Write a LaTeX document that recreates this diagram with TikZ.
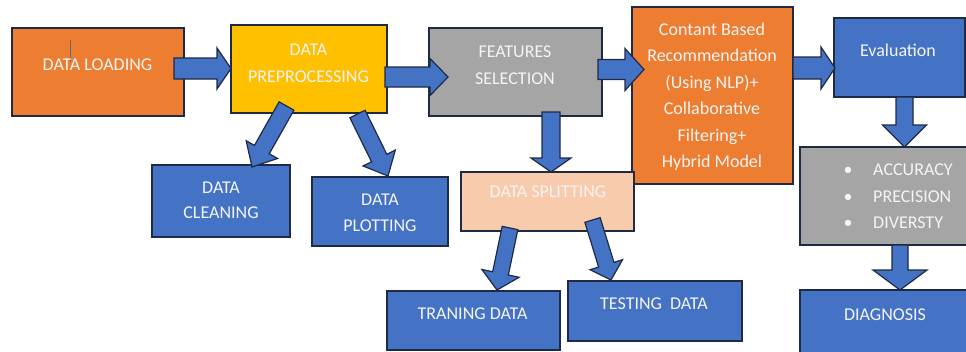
\documentclass[tikz,border=0pt]{standalone}
\usepackage{fontspec}
\setmainfont{Carlito}
\usetikzlibrary{calc}

\definecolor{edge}{HTML}{1F2A44}
\definecolor{cOrange}{HTML}{ED7D31}
\definecolor{cYellow}{HTML}{FFC000}
\definecolor{cGray}{HTML}{A5A5A5}
\definecolor{cPeach}{HTML}{F8CBAD}
\definecolor{cBlue}{HTML}{4472C4}
\definecolor{cText}{HTML}{F4F4F4}

\tikzset{
  box/.style={draw=edge, line width=1.4pt, inner sep=0pt, outer sep=0pt},
  lbl/.style={anchor=base, inner sep=0pt, text=cText, font=\fontsize{18}{22}\selectfont},
  lblw/.style={lbl, anchor=base west},
  barrow/.style={draw=edge, fill=cBlue, line width=1.2pt, line join=miter},
}

% block arrow: name, tail, tip, shaft half-width, head half-width, head length
\newcommand\blockarrow[6]{%
  \coordinate (#1-neck) at ($(#3)!#6!(#2)$);
  \draw[barrow] ($(#2)!#4!90:(#3)$) -- ($(#1-neck)!#4!-90:(#2)$)
    -- ($(#1-neck)!#5!-90:(#2)$) -- (#3) -- ($(#1-neck)!#5!90:(#2)$)
    -- ($(#1-neck)!#4!90:(#2)$) -- ($(#2)!#4!-90:(#3)$) -- cycle;
}

\begin{document}
\begin{tikzpicture}[x=1pt, y=-1pt]
\useasboundingbox (0,0) rectangle (966,351);
\clip (0,0) rectangle (966,351);
\fill[white] (0,0) rectangle (966,351);

% process boxes
\node[box, fill=cOrange, minimum width=172, minimum height=88] (dl)  at (98,72) {};
\node[box, fill=cYellow, minimum width=156, minimum height=88] (dp)  at (309,69) {};
\node[box, fill=cGray,   minimum width=173, minimum height=88] (fs)  at (515.5,72) {};
\node[box, fill=cOrange, minimum width=161, minimum height=177] (cb) at (712.5,95.5) {};
\node[box, fill=cBlue,   minimum width=131, minimum height=79] (ev)  at (899.5,57.5) {};
\node[box, fill=cGray,   minimum width=170, minimum height=98] (gr)  at (885,196) {};
\node[box, fill=cBlue,   minimum width=170, minimum height=70] (dg)  at (885,325) {};
\node[box, fill=cBlue,   minimum width=138, minimum height=72] (dc)  at (221,201) {};
\node[box, fill=cBlue,   minimum width=136, minimum height=69] (dpl) at (380,211.5) {};
\node[box, fill=cPeach,  minimum width=173, minimum height=59] (ds)  at (547.5,201.5) {};
\node[box, fill=cBlue,   minimum width=173, minimum height=59] (tr)  at (473.5,320.5) {};
\node[box, fill=cBlue,   minimum width=174, minimum height=60] (ts)  at (655,311) {};

% text cursor mark inside the first box
\draw[edge!70, line width=0.6pt] (70,40) -- (70,62);

% labels
\node[lbl] (dl-t)  at (97.5,70.2)  {DATA LOADING};
\node[lbl] (dp-t1) at (308.5,55.7) {DATA};
\node[lbl] (dp-t2) at (308.5,82.2) {PREPROCESSING};
\node[lbl] (fs-t1) at (515,57.7)   {FEATURES};
\node[lbl] (fs-t2) at (515,84.7)   {SELECTION};
\node[lbl] (cb-t1) at (712,35.2)   {Contant Based};
\node[lbl] (cb-t2) at (712,61.7)   {Recommendation};
\node[lbl] (cb-t3) at (712,88.2)   {(Using NLP)+};
\node[lbl] (cb-t4) at (712,114.7)  {Collaborative};
\node[lbl] (cb-t5) at (712,141.2)  {Filtering+};
\node[lbl] (cb-t6) at (712,167.7)  {Hybrid Model};
\node[lbl] (ev-t)  at (898,56.7)   {Evaluation};
\node[lbl] (gr-b1) at (848,175.7)  {•};
\node[lbl] (gr-b2) at (848,202.2)  {•};
\node[lbl] (gr-b3) at (848,228.2)  {•};
\node[lblw] (gr-t1) at (873,175.7) {ACCURACY};
\node[lblw] (gr-t2) at (873,202.2) {PRECISION};
\node[lblw] (gr-t3) at (873,228.2) {DIVERSTY};
\node[lbl] (dg-t)  at (885,320.7)  {DIAGNOSIS};
\node[lbl] (dc-t1) at (221,193.2)  {DATA};
\node[lbl] (dc-t2) at (221,218.7)  {CLEANING};
\node[lbl] (dpl-t1) at (380,205.4) {DATA};
\node[lbl] (dpl-t2) at (380,231.2) {PLOTTING};
\node[lbl] (ds-t)  at (548,197.7)  {DATA SPLITTING};
\node[lbl] (tr-t)  at (472.5,319.4) {TRANING DATA};
\node[lbl] (ts-t)  at (654,309.4)  {TESTING\ \ DATA};

% connector end points
\coordinate (a1s) at (174,68.5);   \coordinate (a1e) at (231,68.5);
\coordinate (a2s) at (385,77);     \coordinate (a2e) at (448,77);
\coordinate (a3s) at (598,69.5);   \coordinate (a3e) at (644,69.5);
\coordinate (a4s) at (793,68);     \coordinate (a4e) at (835,68);
\coordinate (a5s) at (551,112);    \coordinate (a5e) at (551,172);
\coordinate (a6s) at (904.5,97);   \coordinate (a6e) at (904.5,147);
\coordinate (a7s) at (900,245);    \coordinate (a7e) at (900,290);
\coordinate (a8s) at (286.5,106);  \coordinate (a8e) at (252,167);
\coordinate (a9s) at (357.5,114);  \coordinate (a9e) at (388,176);
\coordinate (a10s) at (510,228);   \coordinate (a10e) at (497,290);
\coordinate (a11s) at (592.5,220); \coordinate (a11e) at (611,280);

% block arrows
\blockarrow{a1}{a1s}{a1e}{10.5pt}{20.5pt}{14pt}
\blockarrow{a2}{a2s}{a2e}{10pt}{18.5pt}{18pt}
\blockarrow{a3}{a3s}{a3e}{10pt}{21pt}{19pt}
\blockarrow{a4}{a4s}{a4e}{11pt}{21pt}{14pt}
\blockarrow{a5}{a5s}{a5e}{9pt}{20pt}{14pt}
\blockarrow{a6}{a6s}{a6e}{8.5pt}{22pt}{22pt}
\blockarrow{a7}{a7s}{a7e}{8pt}{27pt}{20pt}
\blockarrow{a8}{a8s}{a8e}{8.5pt}{18pt}{20pt}
\blockarrow{a9}{a9s}{a9e}{8.5pt}{18pt}{20pt}
\blockarrow{a10}{a10s}{a10e}{8pt}{19pt}{17pt}
\blockarrow{a11}{a11s}{a11e}{8pt}{17pt}{16pt}
\end{tikzpicture}
\end{document}
